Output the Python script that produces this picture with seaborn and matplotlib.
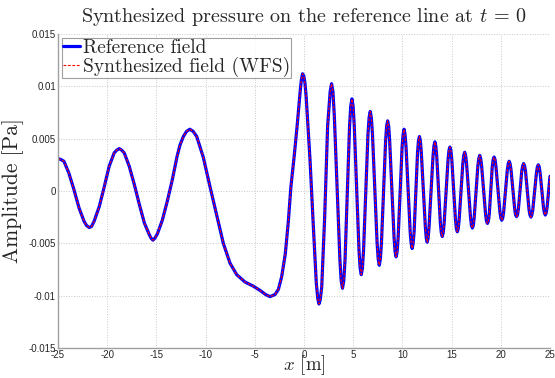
import numpy as np
import pandas as pd
import seaborn as sns
import matplotlib.pyplot as plt

# values (x in m, pressure in Pa)
x_slow = [-25.0, -24.7, -24.4, -23.9, -23.37, -22.86, -22.35, -22.1, -21.84, -21.6,
          -21.33, -20.8, -20.3, -19.8, -19.29, -19.03, -18.78, -18.53, -18.27, -17.76,
          -17.24, -16.73, -16.22, -15.71, -15.55, -15.35, -15.15, -14.9, -14.4, -13.9,
          -13.4, -12.9, -12.6, -12.26, -11.93, -11.6, -11.27, -10.9, -10.23, -9.55,
          -8.87, -8.2, -7.52, -6.84, -6.0, -5.15, -4.47, -3.9, -3.46, -2.95,
          -2.6, -2.27, -1.9, -1.6, -1.33, -1.0, -0.7, -0.4, -0.27, -0.15,
          -0.02, 0.1, 0.22, 0.35, 0.61, 0.95, 1.25, 1.4, 1.52, 1.65,
          1.8, 2.1, 2.4]
p_slow = [0.0031, 0.003, 0.00284, 0.00172, 0.0001, -0.00163, -0.0029, -0.0033, -0.00349, -0.0034,
          -0.0029, -0.00147, 0.0004, 0.00236, 0.00364, 0.0039, 0.00405, 0.0039, 0.00364, 0.00236,
          0.0006, -0.0013, -0.00307, -0.0042, -0.0045, -0.0047, -0.0045, -0.0041, -0.0028, -0.001,
          0.001, 0.0033, 0.0044, 0.0052, 0.0057, 0.0059, 0.0057, 0.0052, 0.0032, 0.0004,
          -0.0023, -0.005, -0.0069, -0.008, -0.0087, -0.0091, -0.0095, -0.0099, -0.0101, -0.0099,
          -0.0094, -0.0082, -0.006, -0.003, 0.0004, 0.0033, 0.0062, 0.0094, 0.0106, 0.0112,
          0.011, 0.0103, 0.009, 0.007, 0.003, -0.0034, -0.0088, -0.0103, -0.0108, -0.0104,
          -0.0092, -0.0025, 0.0062]

x_fast = [2.66, 2.8, 2.94, 3.08,
          3.65, 3.78, 3.91, 4.04, 4.17,
          4.63, 4.75, 4.87, 4.99, 5.11,
          5.59, 5.705, 5.82, 5.935, 6.05,
          6.5, 6.615, 6.73, 6.845, 6.96,
          7.43, 7.54, 7.65, 7.76, 7.87,
          8.29, 8.395, 8.5, 8.605, 8.71,
          9.15, 9.255, 9.36, 9.465, 9.57,
          9.97, 10.07, 10.17, 10.27, 10.37,
          10.79, 10.89, 10.99, 11.09, 11.19,
          11.54, 11.635, 11.73, 11.825, 11.92,
          12.33, 12.425, 12.52, 12.615, 12.71,
          13.11, 13.205, 13.3, 13.395, 13.49,
          13.86, 13.955, 14.05, 14.145, 14.24,
          14.64, 14.735, 14.83, 14.925, 15.02,
          15.39, 15.485, 15.58, 15.675, 15.77,
          16.14, 16.235, 16.33, 16.425, 16.52,
          16.92, 17.015, 17.11, 17.205, 17.3,
          17.67, 17.765, 17.86, 17.955, 18.05,
          18.45, 18.545, 18.64, 18.735, 18.83,
          19.13, 19.225, 19.32, 19.415, 19.51,
          19.91, 20.005, 20.1, 20.195, 20.29,
          20.66, 20.755, 20.85, 20.945, 21.04,
          21.41, 21.505, 21.6, 21.695, 21.79,
          22.13, 22.225, 22.32, 22.415, 22.51,
          22.87, 22.965, 23.06, 23.155, 23.25,
          23.62, 23.715, 23.81, 23.905, 24.0,
          24.34, 24.43, 24.52, 24.61, 24.7,
          25.0]
p_fast = [0.0095, 0.01025, 0.0095, 0.0072,
          -0.0066, -0.0086, -0.0093, -0.0086, -0.0066,
          0.0062, 0.0081, 0.0088, 0.0081, 0.0062,
          -0.0057, -0.0074, -0.008, -0.0074, -0.0057,
          0.0054, 0.007, 0.0076, 0.007, 0.0054,
          -0.005, -0.0065, -0.0071, -0.0065, -0.005,
          0.0047, 0.0062, 0.0067, 0.0062, 0.0047,
          -0.0044, -0.0058, -0.0063, -0.0058, -0.0044,
          0.0042, 0.0054, 0.0059, 0.0054, 0.0042,
          -0.0039, -0.005, -0.0055, -0.005, -0.0039,
          0.0037, 0.0048, 0.0052, 0.0048, 0.0037,
          -0.0034, -0.0045, -0.0049, -0.0045, -0.0034,
          0.0033, 0.0043, 0.0047, 0.0043, 0.0033,
          -0.0031, -0.004, -0.00435, -0.004, -0.0031,
          0.003, 0.0039, 0.0042, 0.0039, 0.003,
          -0.0027, -0.0036, -0.0039, -0.0036, -0.0027,
          0.0026, 0.0034, 0.0037, 0.0034, 0.0026,
          -0.0025, -0.0033, -0.00354, -0.0033, -0.0025,
          0.0024, 0.0031, 0.0034, 0.0031, 0.0024,
          -0.0022, -0.0029, -0.0031, -0.0029, -0.0022,
          0.0023, 0.003, 0.00324, 0.003, 0.0023,
          -0.002, -0.0026, -0.0028, -0.0026, -0.002,
          0.002, 0.0026, 0.00284, 0.0026, 0.002,
          -0.0017, -0.0023, -0.00246, -0.0023, -0.0017,
          0.0019, 0.0024, 0.00262, 0.0024, 0.0019,
          -0.0018, -0.0023, -0.0025, -0.0023, -0.0018,
          0.0017, 0.0023, 0.0025, 0.0023, 0.0017,
          -0.0016, -0.0021, -0.0023, -0.0021, -0.0016,
          0.0014]

x_m = x_slow + x_fast
p_ref = p_slow + p_fast
p_wfs = p_ref  # the two curves coincide at this resolution

df = pd.DataFrame({'x': x_m, 'ref': p_ref, 'wfs': p_wfs})

sns.set_style('white')
plt.rcParams['mathtext.fontset'] = 'cm'

fig = plt.figure(figsize=(5.55, 3.78), dpi=100)
ax = fig.add_axes([0.1045, 0.0796, 0.8865, 0.8304])

sns.lineplot(data=df, x='x', y='ref', ax=ax, color=(0, 0, 1), lw=2.3,
             estimator=None, sort=False, label='Reference field',
             solid_joinstyle='round', solid_capstyle='round')
sns.lineplot(data=df, x='x', y='wfs', ax=ax, color=(1, 0, 0), lw=0.8,
             linestyle=(0, (2.5, 1.5)), estimator=None, sort=False,
             label='Synthesized field (WFS)')

ax.set_xlim(-25, 25)
ax.set_ylim(-0.015, 0.015)
ax.set_xticks(np.arange(-25, 26, 5))
ax.set_yticks([-0.015, -0.01, -0.005, 0, 0.005, 0.01, 0.015])
ax.set_yticklabels(['-0.015', '-0.01', '-0.005', '0', '0.005', '0.01', '0.015'])
ax.set_xticklabels([str(v) for v in range(-25, 26, 5)])
for lab in ax.get_xticklabels() + ax.get_yticklabels():
    lab.set_fontfamily('Liberation Sans')
    lab.set_fontsize(7)
ax.tick_params(direction='in', length=3, width=0.8, color='#999999', pad=1.5)

ax.grid(True, linestyle=':', color='#c8c8c8', lw=0.7)
sns.despine(ax=ax)
for s in ['left', 'bottom']:
    ax.spines[s].set_color('#a0a0a0')
    ax.spines[s].set_linewidth(1.0)

ax.set_title('Synthesized pressure on the reference line at $t\\,=\\,0$',
             fontfamily='cmr10', fontsize=14.5, pad=9)
ax.set_xlabel('$x$ [m]', fontfamily='cmr10', fontsize=13.5, va='bottom')
ax.xaxis.set_label_coords(0.5, -0.092)
ax.set_ylabel('Amplitude [Pa]', fontfamily='cmr10', fontsize=15.5, labelpad=3)

leg = ax.legend(loc='upper left', prop={'family': 'cmr10', 'size': 14},
                frameon=True, fancybox=False, handlelength=0.9, handletextpad=0.15,
                borderpad=0.05, labelspacing=0.0, borderaxespad=0.2)
leg.get_frame().set_edgecolor('#888888')
leg.get_frame().set_linewidth(0.8)

fig.savefig('out.png', dpi=100)
